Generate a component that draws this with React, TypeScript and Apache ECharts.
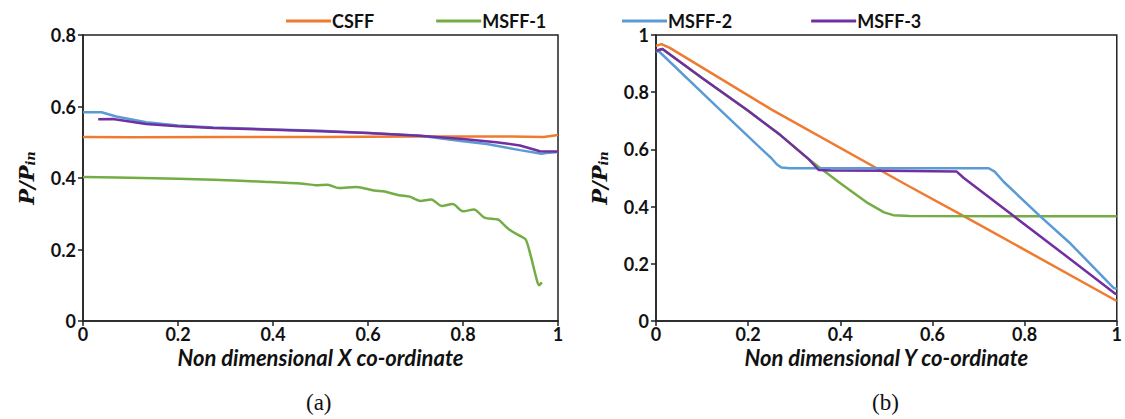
import React, { useEffect, useRef } from "react";
import * as echarts from "echarts";

// ---------- data ----------
const seriesNames = ["CSFF", "MSFF-1", "MSFF-2", "MSFF-3"];

// (a) along non dimensional X co-ordinate
const csffA = [[0, 0.515], [0.1, 0.514], [0.3, 0.515], [0.5, 0.515], [0.7, 0.516], [0.9, 0.516], [0.97, 0.515], [1, 0.52]];
const msff1A = [
  [0, 0.403], [0.125, 0.4], [0.275, 0.395], [0.388, 0.389], [0.463, 0.384], [0.49, 0.38], [0.515, 0.381],
  [0.538, 0.372], [0.575, 0.375], [0.613, 0.365], [0.635, 0.362], [0.665, 0.352], [0.688, 0.348],
  [0.71, 0.336], [0.733, 0.34], [0.755, 0.322], [0.778, 0.327], [0.8, 0.307], [0.823, 0.312],
  [0.845, 0.289], [0.868, 0.285], [0.875, 0.283], [0.898, 0.255], [0.92, 0.238], [0.932, 0.228],
  [0.943, 0.18], [0.954, 0.122], [0.96, 0.1], [0.966, 0.108],
];
const msff2A = [
  [0, 0.584], [0.039, 0.584], [0.07, 0.572], [0.133, 0.556], [0.2, 0.547], [0.274, 0.541], [0.4, 0.536],
  [0.5, 0.532], [0.6, 0.526], [0.709, 0.518], [0.8, 0.503], [0.85, 0.495], [0.92, 0.478], [0.965, 0.468],
  [0.975, 0.47], [1, 0.473],
];
const msff3A = [
  [0.032, 0.564], [0.063, 0.565], [0.133, 0.551], [0.2, 0.545], [0.274, 0.54], [0.4, 0.535], [0.5, 0.531],
  [0.6, 0.526], [0.709, 0.518], [0.8, 0.509], [0.87, 0.5], [0.92, 0.491], [0.962, 0.475], [1, 0.474],
];

// (b) along non dimensional Y co-ordinate
const csffB = [[0, 0.962], [0.012, 0.968], [0.03, 0.955], [0.25, 0.74], [0.548, 0.472], [0.669, 0.366], [1, 0.07]];
const msff1B = [
  [0, 0.945], [0.014, 0.951], [0.1, 0.85], [0.2, 0.735], [0.27, 0.65], [0.332, 0.565], [0.4, 0.482],
  [0.46, 0.412], [0.495, 0.38], [0.515, 0.37], [0.55, 0.367], [1, 0.366],
];
const msff2B = [
  [0, 0.94], [0.005, 0.945], [0.13, 0.752], [0.235, 0.592], [0.25, 0.57], [0.262, 0.548], [0.272, 0.537],
  [0.29, 0.534], [0.5, 0.534], [0.722, 0.534], [0.735, 0.522], [0.755, 0.486], [0.834, 0.366],
  [0.9, 0.27], [0.993, 0.116], [1, 0.112],
];
const msff3B = [
  [0, 0.945], [0.014, 0.951], [0.1, 0.85], [0.2, 0.735], [0.27, 0.65], [0.332, 0.565], [0.353, 0.528],
  [0.38, 0.526], [0.5, 0.525], [0.652, 0.523], [0.668, 0.5], [0.777, 0.366], [0.9, 0.215], [0.996, 0.096],
  [1, 0.094],
];

const colors = ["#EE7B30", "#74AD45", "#5B9BD5", "#7030A0"];

const tickFont = { fontFamily: "Lato", fontWeight: "bold" as const, fontSize: 18, color: "#111" };

export default function App() {
  const ref = useRef<HTMLDivElement>(null);
  useEffect(() => {
    if (!ref.current) return;
    const chart = echarts.init(ref.current, null, { renderer: "svg" });
    const yName = {
      name: "{p|P/P}{s|in}",
      nameLocation: "middle" as const,
      nameRotate: 90,
      nameGap: 46,
      nameMoveOverlap: false,
      nameTextStyle: {
        rich: {
          p: { fontFamily: "DejaVu Serif", fontStyle: "italic", fontWeight: "bold", fontSize: 21, color: "#111" },
          s: { fontFamily: "DejaVu Serif", fontStyle: "italic", fontWeight: "bold", fontSize: 13, color: "#111", padding: [9, 0, 0, 0] },
        },
      },
    };
    const axisCommon = {
      type: "value" as const,
      axisLine: { show: true, lineStyle: { color: "#222", width: 1.5 } },
      axisTick: { show: true, length: 5, lineStyle: { color: "#222", width: 1.5 } },
      splitLine: { show: false },
      axisLabel: { ...tickFont, margin: 7 },
    };
    const xName = (t: string) => ({
      name: t,
      nameLocation: "middle" as const,
      nameGap: 25,
      nameMoveOverlap: false,
      nameTextStyle: { fontFamily: "Lato", fontStyle: "italic", fontWeight: "bold", fontSize: 22, color: "#111" },
    });
    const xLabel = { ...tickFont, margin: 4 };
    const mk = (name: string, data: number[][], i: number, idx: number, smooth = false) => ({
      name,
      type: "line" as const,
      xAxisIndex: i,
      yAxisIndex: i,
      data,
      smooth: smooth ? 0.3 : false,
      showSymbol: false,
      symbol: "none",
      lineStyle: { width: 2.5, color: colors[idx] },
      itemStyle: { color: colors[idx] },
    });
    const legendText = { fontFamily: "Lato", fontWeight: "bold" as const, fontSize: 18, color: "#111", padding: [0, 0, 0, -4] };
    chart.setOption({
      animation: false,
      backgroundColor: "#fff",
      legend: [
        {
          data: [seriesNames[0], seriesNames[1]],
          left: 281,
          top: 7,
          icon: "rect",
          itemWidth: 45,
          itemHeight: 3,
          itemGap: 62,
          textStyle: legendText,
        },
        {
          data: [seriesNames[2], seriesNames[3]],
          left: 617,
          top: 7,
          icon: "rect",
          itemWidth: 45,
          itemHeight: 3,
          itemGap: 79,
          textStyle: legendText,
        },
      ],
      grid: [
        { left: 83, width: 475, top: 35, height: 286, show: true, borderColor: "#222", borderWidth: 1.5, backgroundColor: "transparent" },
        { left: 656, width: 464, top: 35, height: 286, show: true, borderColor: "#222", borderWidth: 1.5, backgroundColor: "transparent" },
      ],
      xAxis: [
        { ...axisCommon, axisLabel: xLabel, gridIndex: 0, min: 0, max: 1, interval: 0.2, ...xName("Non dimensional X co-ordinate") },
        { ...axisCommon, axisLabel: xLabel, gridIndex: 1, min: 0, max: 1, interval: 0.2, ...xName("Non dimensional Y co-ordinate") },
      ],
      yAxis: [
        { ...axisCommon, gridIndex: 0, min: 0, max: 0.8, interval: 0.2, ...yName },
        { ...axisCommon, gridIndex: 1, min: 0, max: 1, interval: 0.2, ...yName },
      ],
      graphic: [
        { type: "text", left: 306, top: 391, style: { text: "(a)", font: "23px 'Liberation Serif'", fill: "#111" } },
        { type: "text", left: 872, top: 391, style: { text: "(b)", font: "23px 'Liberation Serif'", fill: "#111" } },
      ],
      series: [
        mk("CSFF", csffA, 0, 0),
        mk("MSFF-1", msff1A, 0, 1, true),
        mk("MSFF-2", msff2A, 0, 2),
        mk("MSFF-3", msff3A, 0, 3),
        mk("CSFF", csffB, 1, 0),
        mk("MSFF-1", msff1B, 1, 1),
        mk("MSFF-2", msff2B, 1, 2),
        mk("MSFF-3", msff3B, 1, 3),
      ],
    });
    return () => chart.dispose();
  }, []);
  return <div ref={ref} style={{ position: "fixed", left: 0, top: 0, width: 1125, height: 419 }} />;
}
